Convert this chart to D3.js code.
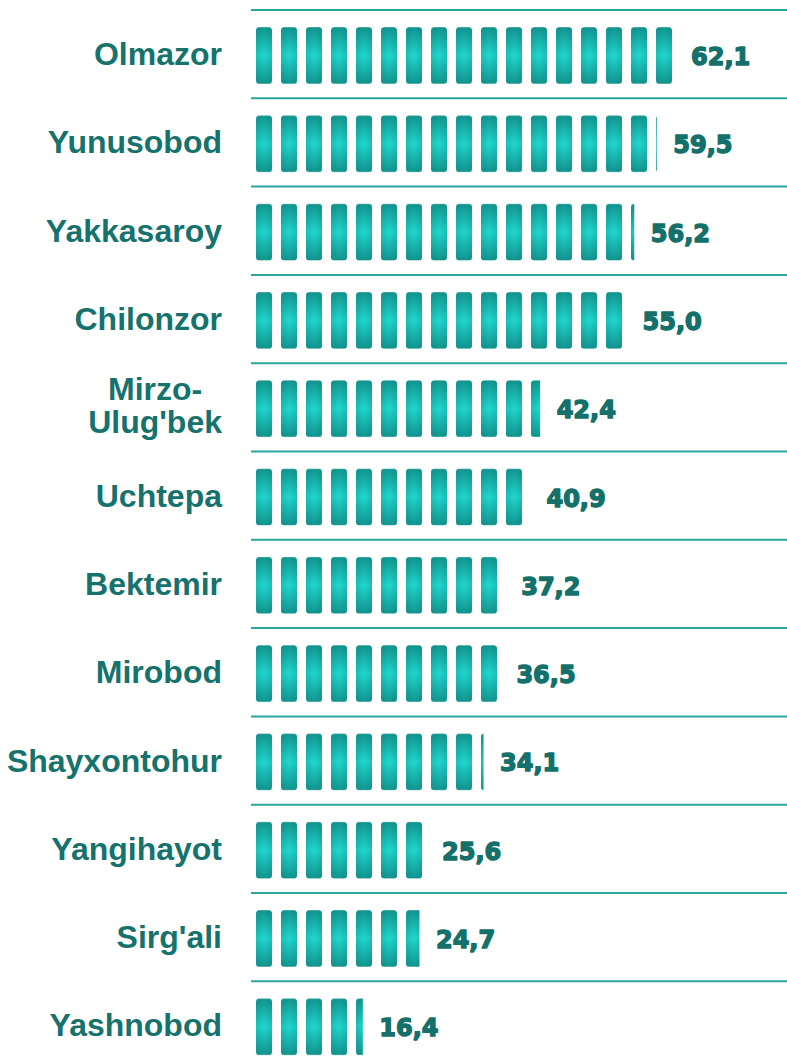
<!DOCTYPE html>
<html>
<head>
<meta charset="utf-8">
<script src="https://cdn.jsdelivr.net/npm/d3@7"></script>
<style>
  body { margin: 0; background: #fff; }
  svg { display: block; }
</style>
</head>
<body>
<div id="chart"></div>
<script>
// data
var districts = ["Olmazor", "Yunusobod", "Yakkasaroy", "Chilonzor", "Mirzo-Ulug'bek", "Uchtepa",
    "Bektemir", "Mirobod", "Shayxontohur", "Yangihayot", "Sirg'ali", "Yashnobod"];
var values = [62.1, 59.5, 56.2, 55.0, 42.4, 40.9, 37.2, 36.5, 34.1, 25.6, 24.7, 16.4];

var svgWidth = 787;
var svgHeight = 1062;
var rowH = 88.3;
var top0 = 10;

var svg = d3.select("#chart")
    .append("svg")
    .attr("width", svgWidth)
    .attr("height", svgHeight);

var data = districts.map((d, i) => ({ name: d, value: values[i] }));

// scales
var yScale = d3.scaleBand()
    .domain(districts)
    .range([top0, top0 + rowH * districts.length])
    .padding(0);

var xScale = d3.scaleLinear()
    .domain([0, 80])
    .range([251, 251 + 80 * 6.82]);

var fmt = v => d3.format(".1f")(v).replace(".", ",");

// segment pattern with shaded pills
var defs = svg.append("defs");
var grad = defs.append("linearGradient")
    .attr("id", "pillGrad")
    .attr("x1", 0).attr("y1", 0).attr("x2", 0).attr("y2", 1);
grad.append("stop").attr("offset", "0%").attr("stop-color", "#12948e");
grad.append("stop").attr("offset", "50%").attr("stop-color", "#20d8cf");
grad.append("stop").attr("offset", "100%").attr("stop-color", "#12948e");

var shade = defs.append("linearGradient")
    .attr("id", "pillShade")
    .attr("x1", 0).attr("y1", 0).attr("x2", 1).attr("y2", 0);
shade.append("stop").attr("offset", "0%").attr("stop-color", "#0b7a74").attr("stop-opacity", 0.25);
shade.append("stop").attr("offset", "50%").attr("stop-color", "#0b7a74").attr("stop-opacity", 0);
shade.append("stop").attr("offset", "100%").attr("stop-color", "#0b7a74").attr("stop-opacity", 0.25);

var pattern = defs.append("pattern")
    .attr("id", "pills")
    .attr("patternUnits", "userSpaceOnUse")
    .attr("x", xScale(0))
    .attr("y", top0)
    .attr("width", 25)
    .attr("height", yScale.bandwidth());

pattern.append("rect")
    .attr("x", 5)
    .attr("y", 17)
    .attr("width", 16)
    .attr("height", 57)
    .attr("rx", 3.5)
    .attr("fill", "url(#pillGrad)");
pattern.append("rect")
    .attr("x", 5)
    .attr("y", 17)
    .attr("width", 16)
    .attr("height", 57)
    .attr("rx", 3.5)
    .attr("fill", "url(#pillShade)");

// separator lines
var lineYs = districts.map(d => yScale(d)).concat([yScale.range()[1]]);
svg.selectAll(".sep")
    .data(lineYs)
    .enter()
    .append("line")
    .attr("class", "sep")
    .attr("x1", xScale(0))
    .attr("x2", svgWidth)
    .attr("y1", d => d)
    .attr("y2", d => d)
    .attr("stroke", "#29a69e")
    .attr("stroke-width", 2);

// bars
svg.selectAll(".bar")
    .data(data)
    .enter()
    .append("rect")
    .attr("class", "bar")
    .attr("x", xScale(0))
    .attr("y", d => yScale(d.name) + 17)
    .attr("width", d => xScale(d.value) - xScale(0))
    .attr("height", 57)
    .attr("fill", "url(#pills)");

// value labels
svg.selectAll(".val")
    .data(data)
    .enter()
    .append("text")
    .attr("class", "val")
    .attr("x", d => xScale(d.value) + 16.5)
    .attr("y", d => yScale(d.name) + 55)
    .attr("font-family", "DejaVu Sans")
    .attr("font-weight", "bold")
    .attr("font-size", "24px")
    .attr("fill", "#13706a")
    .attr("stroke", "#13706a")
    .attr("stroke-width", 1.4)
    .attr("stroke-linejoin", "round")
    .text(d => fmt(d.value));

// district labels (right aligned, multi-line blocks centred)
var labelRight = 222;
svg.selectAll(".cat")
    .data(data)
    .enter()
    .append("text")
    .attr("class", "cat")
    .attr("font-family", "Liberation Sans, Arial, sans-serif")
    .attr("font-weight", "bold")
    .attr("font-size", "32px")
    .attr("fill", "#15726c")
    .each(function (d) {
        var t = d3.select(this);
        var cy = yScale(d.name) + yScale.bandwidth() / 2;
        var parts = d.name.indexOf("-") > 0
            ? [d.name.slice(0, d.name.indexOf("-") + 1), d.name.slice(d.name.indexOf("-") + 1)]
            : [d.name];
        if (parts.length === 1) {
            t.attr("text-anchor", "end")
                .attr("x", labelRight)
                .attr("y", cy + 11)
                .text(d.name);
        } else {
            var spans = t.attr("text-anchor", "middle")
                .selectAll("tspan")
                .data(parts)
                .enter()
                .append("tspan")
                .attr("y", (p, i) => cy - 7 + i * 33)
                .text(p => p);
            var maxW = 0;
            spans.each(function () { maxW = Math.max(maxW, this.getComputedTextLength()); });
            spans.attr("x", labelRight - maxW / 2);
        }
    });
</script>
</body>
</html>
